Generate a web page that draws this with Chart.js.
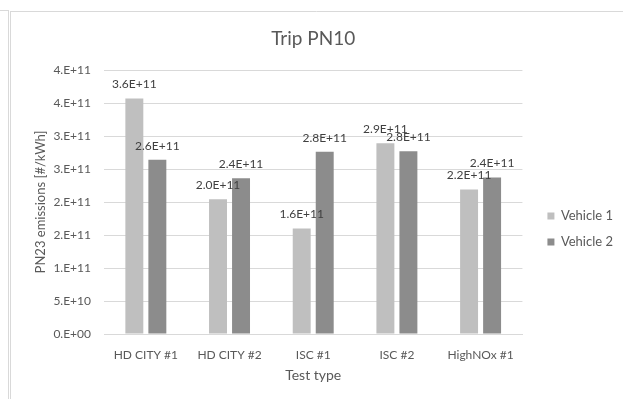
<!DOCTYPE html>
<html>
<head>
<meta charset="utf-8">
<script src="https://cdn.jsdelivr.net/npm/chart.js@4.4.1/dist/chart.umd.min.js"></script>
<style>
  html, body { margin: 0; padding: 0; background: #fff; }
  #wrap { width: 623px; height: 399px; }
</style>
</head>
<body>
<div id="wrap"><canvas id="chart"></canvas></div>
<script>
const categories = ['HD CITY #1', 'HD CITY #2', 'ISC #1', 'ISC #2', 'HighNOx #1']
const seriesNames = ['Vehicle 1', 'Vehicle 2']
const vehicle1 = [3.57e11, 2.04e11, 1.6e11, 2.89e11, 2.19e11]
const vehicle2 = [2.64e11, 2.36e11, 2.76e11, 2.77e11, 2.37e11]
const yMin = 0
const yMax = 4e11
const yStep = 5e10

const textColor = '#595959'
const gridColor = '#d9d9d9'
const barColors = ['#bfbfbf', '#8c8c8c']

Chart.defaults.font.family = "Lato, 'Open Sans', sans-serif"
Chart.defaults.color = textColor

// excel style "0.E+00" / "0.0E+00"
function sci(v, digits) {
  const [m, e] = v.toExponential(digits).split('e')
  const n = parseInt(e, 10)
  const exp = (n < 0 ? '-' : '+') + String(Math.abs(n)).padStart(2, '0')
  return (digits === 0 ? m + '.' : m) + 'E' + exp
}

// white background + the sheet/chart borders
const frame = {
  id: 'frame',
  beforeDraw(chart) {
    const ctx = chart.ctx
    ctx.save()
    ctx.fillStyle = '#fff'
    ctx.fillRect(0, 0, chart.width, chart.height)
    ctx.strokeStyle = '#d9d9d9'
    ctx.lineWidth = 1
    ctx.beginPath()
    ctx.moveTo(0, 10.5); ctx.lineTo(8, 10.5)
    ctx.moveTo(8.5, 10); ctx.lineTo(8.5, chart.height)
    ctx.moveTo(10.5, 11); ctx.lineTo(10.5, chart.height)
    ctx.moveTo(10, 11.5); ctx.lineTo(chart.width, 11.5)
    ctx.stroke()
    ctx.restore()
  }
}

// value labels above bars
const barLabels = {
  id: 'barLabels',
  afterDatasetsDraw(chart) {
    const ctx = chart.ctx
    ctx.save()
    ctx.font = "12px Lato, 'Open Sans', sans-serif"
    ctx.fillStyle = '#404040'
    ctx.textAlign = 'center'
    ctx.textBaseline = 'middle'
    chart.data.datasets.forEach((ds, i) => {
      chart.getDatasetMeta(i).data.forEach((bar, j) => {
        ctx.fillText(sci(ds.data[j], 1), bar.x, bar.y - 14)
      })
    })
    ctx.restore()
  }
}

// push legend a bit right/down like excel does
const nudgeLegend = {
  id: 'nudgeLegend',
  afterLayout(chart) {
    const lg = chart.legend
    lg.left += 12; lg.right += 12
    lg.top += 37; lg.bottom += 37
  }
}

const ctx = document.getElementById('chart').getContext('2d')

const chart = new Chart(ctx, {
  type: 'bar',
  data: {
    labels: categories,
    datasets: [{
      label: seriesNames[0],
      data: vehicle1,
      backgroundColor: barColors[0],
      borderWidth: 0,
      categoryPercentage: 0.55,
      barPercentage: 0.78
    }, {
      label: seriesNames[1],
      data: vehicle2,
      backgroundColor: barColors[1],
      borderWidth: 0,
      categoryPercentage: 0.55,
      barPercentage: 0.78
    }]
  },
  options: {
    responsive: true,
    maintainAspectRatio: false,
    animation: false,
    layout: { padding: { left: 0, right: 12, top: 0, bottom: 15 } },
    scales: {
      x: {
        grid: { display: false },
        border: { display: true, color: gridColor },
        ticks: { padding: 6, font: { size: 12 }, maxRotation: 0, autoSkip: false },
        title: { display: true, text: 'Test type', font: { size: 14 }, padding: { top: 0, bottom: 0 } },
        afterFit: s => { s.height = 50 }
      },
      y: {
        min: yMin,
        max: yMax,
        ticks: { stepSize: yStep, padding: 13, font: { size: 12 }, callback: v => sci(v, 0) },
        grid: { color: gridColor, drawTicks: false },
        border: { display: false },
        title: { display: true, text: 'PN23 emissions [#/kWh]', font: { size: 13 }, padding: { top: 33, bottom: 0 } },
        afterFit: s => { s.width = 104 }
      }
    },
    plugins: {
      title: {
        display: true,
        text: 'Trip PN10',
        fullSize: false,
        font: { size: 19, weight: 'normal' },
        padding: { top: 27, bottom: 20.2 }
      },
      legend: {
        position: 'right',
        labels: { boxWidth: 7, boxHeight: 7, padding: 13, font: { size: 13 } }
      },
      tooltip: { enabled: false }
    }
  },
  plugins: [frame, barLabels, nudgeLegend]
})
</script>
</body>
</html>
